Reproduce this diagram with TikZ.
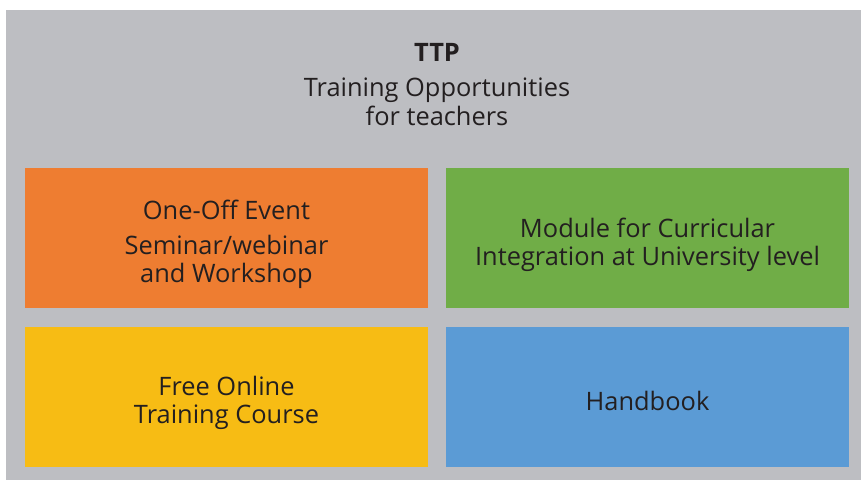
\documentclass[tikz,border=0pt]{standalone}
\usepackage{fontspec}
\setmainfont{Open Sans}
\definecolor{bggray}{HTML}{BDBEC2}
\definecolor{orng}{HTML}{EE7D31}
\definecolor{grn}{HTML}{70AD47}
\definecolor{ylw}{HTML}{F7BC14}
\definecolor{blu}{HTML}{5B9BD5}
\definecolor{txt}{HTML}{231F20}
\tikzset{
  tile/.style={inner sep=0pt, outer sep=0pt, minimum width=403bp, minimum height=140bp},
  lbl/.style={text=txt, font=\fontsize{25.5}{28.5}\selectfont, align=center, inner sep=0pt}
}
\begin{document}
\begin{tikzpicture}[x=1bp,y=-1bp]
\useasboundingbox (0,0) rectangle (861,480);
\fill[bggray] (6,10) rectangle (861,480);
\node[tile, fill=orng] (ev) at (226.5,238) {};
\node[tile, fill=grn] (mod) at (647.5,238) {};
\node[tile, fill=ylw] (fr) at (226.5,397) {};
\node[tile, fill=blu] (hb) at (647.5,397) {};
\node[lbl, font=\fontsize{25.5}{28.5}\selectfont\bfseries] (ttp) at (437,52) {TTP};
\node[lbl] (tit) at (437,102) {Training Opportunities\\for teachers};
\node[lbl] (ev1) at (226.5,210) {One-Off Event};
\node[lbl] (ev2) at (226.5,262) {Seminar/webinar\\and Workshop};
\node[lbl] (modt) at (647.5,245) {Module for Curricular\\Integration at University level};
\node[lbl] (frt) at (226.5,403) {Free Online\\Training Course};
\node[lbl] (hbt) at (647.5,401) {Handbook};
\end{tikzpicture}
\end{document}
